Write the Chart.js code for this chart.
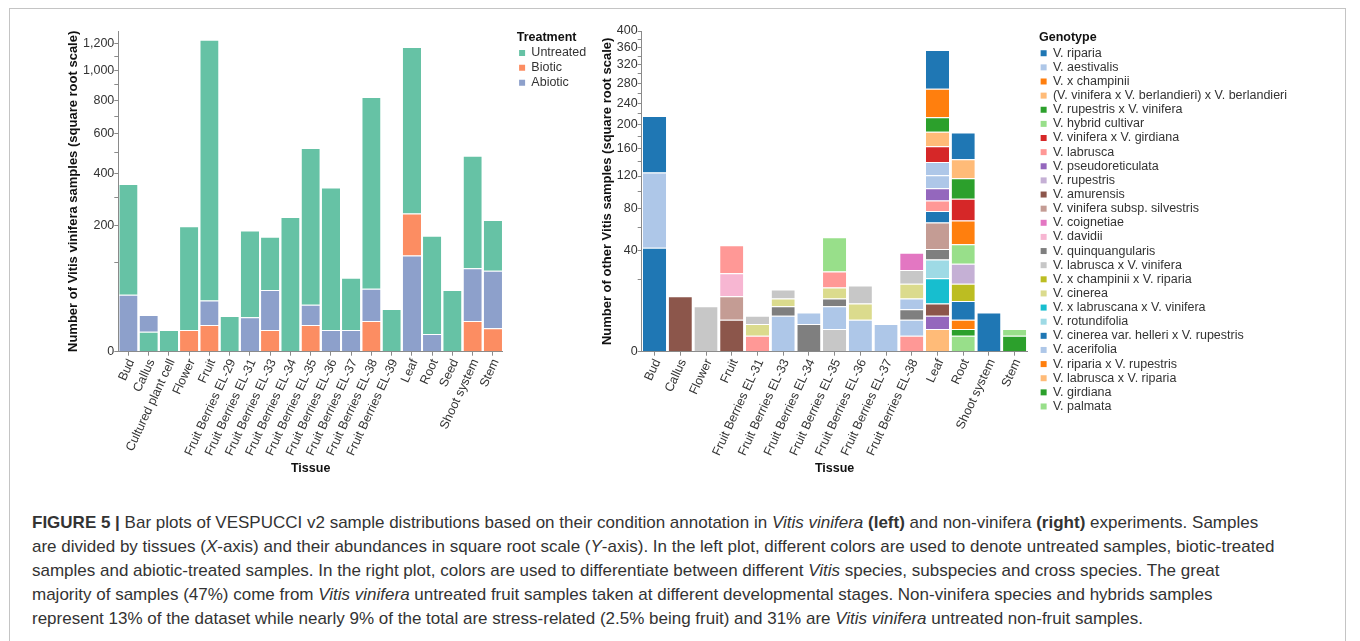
<!DOCTYPE html>
<html><head><meta charset="utf-8">
<script src="https://cdn.jsdelivr.net/npm/chart.js@4.4.1/dist/chart.umd.min.js"></script>
<style>
html,body{margin:0;padding:0;background:#fff;}
body{width:1360px;height:641px;position:relative;overflow:hidden;font-family:'Liberation Sans',Arial,sans-serif;}
#frame{position:absolute;left:9px;top:8px;width:1337px;height:680px;border:1px solid #c4c4c4;box-sizing:border-box;}
#left{position:absolute;left:60px;top:20px;}
#right{position:absolute;left:590px;top:20px;}
#caption{position:absolute;left:32px;top:511px;font-size:17px;line-height:24px;color:#333;white-space:nowrap;}
</style></head>
<body>
<div id="frame"></div>
<canvas id="left" width="540" height="456"></canvas>
<canvas id="right" width="745" height="456"></canvas>
<div id="caption"><b>FIGURE 5 |</b> Bar plots of VESPUCCI v2 sample distributions based on their condition annotation in <i>Vitis vinifera</i> <b>(left)</b> and non-vinifera <b>(right)</b> experiments. Samples<br>are divided by tissues (<i>X</i>-axis) and their abundances in square root scale (<i>Y</i>-axis). In the left plot, different colors are used to denote untreated samples, biotic-treated<br>samples and abiotic-treated samples. In the right plot, colors are used to differentiate between different <i>Vitis</i> species, subspecies and cross species. The great<br>majority of samples (47%) come from <i>Vitis vinifera</i> untreated fruit samples taken at different developmental stages. Non-vinifera species and hybrids samples<br>represent 13% of the dataset while nearly 9% of the total are stress-related (2.5% being fruit) and 31% are <i>Vitis vinifera</i> untreated non-fruit samples.</div>
<script>
// ---------------- DATA: left plot (Vitis vinifera) ----------------
const leftTissues = ['Bud','Callus','Cultured plant cell','Flower','Fruit','Fruit Berries EL-29','Fruit Berries EL-31','Fruit Berries EL-33','Fruit Berries EL-34','Fruit Berries EL-35','Fruit Berries EL-36','Fruit Berries EL-37','Fruit Berries EL-38','Fruit Berries EL-39','Leaf','Root','Seed','Shoot system','Stem'];
const treatmentNames = ['Untreated','Biotic','Abiotic'];
const untreatedCounts = [314,5,6,193,1198,16,171,119,229,497,335,63,770,23,932,166,48,397,136];
const bioticCounts    = [0,0,0,6,9,0,0,6,0,9,0,0,12,0,124,0,0,12,7];
const abioticCounts   = [41,12,0,0,24,0,15,42,0,19,6,6,38,0,117,4,0,76,76];
// stacking order of the rows in each bar, bottom to top
const leftStackOrder = [
  ['Abiotic','Untreated'], ['Untreated','Abiotic'], ['Untreated'], ['Biotic','Untreated'],
  ['Biotic','Abiotic','Untreated'], ['Untreated'], ['Abiotic','Untreated'], ['Biotic','Abiotic','Untreated'],
  ['Untreated'], ['Biotic','Abiotic','Untreated'], ['Abiotic','Untreated'], ['Abiotic','Untreated'],
  ['Biotic','Abiotic','Untreated'], ['Untreated'], ['Abiotic','Biotic','Untreated'], ['Abiotic','Untreated'],
  ['Untreated'], ['Biotic','Abiotic','Untreated'], ['Biotic','Abiotic','Untreated']
];
const leftTickValues = [0,100,200,300,400,500,600,700,800,900,1000,1100,1200];
const leftTickLabels = [0,200,400,600,800,1000,1200];
const leftMax = 1300;

// ---------------- DATA: right plot (other Vitis) ----------------
const rightTissues = ['Bud','Callus','Flower','Fruit','Fruit Berries EL-31','Fruit Berries EL-33','Fruit Berries EL-34','Fruit Berries EL-35','Fruit Berries EL-36','Fruit Berries EL-37','Fruit Berries EL-38','Leaf','Root','Shoot system','Stem'];
const genotypeNames = ['V. riparia','V. aestivalis','V. x champinii','(V. vinifera x V. berlandieri) x V. berlandieri','V. rupestris x V. vinifera','V. hybrid cultivar','V. vinifera x V. girdiana','V. labrusca','V. pseudoreticulata','V. rupestris','V. amurensis','V. vinifera subsp. silvestris','V. coignetiae','V. davidii','V. quinquangularis','V. labrusca x V. vinifera','V. x champinii x V. riparia','V. cinerea','V. x labruscana x V. vinifera','V. rotundifolia','V. cinerea var. helleri x V. rupestris','V. acerifolia','V. riparia x V. rupestris','V. labrusca x V. riparia','V. girdiana','V. palmata'];
// rows of each bar, bottom to top
const rightStackGenotypes = [
  ['V. riparia','V. aestivalis','V. riparia'],
  ['V. amurensis'],
  ['V. labrusca x V. vinifera'],
  ['V. amurensis','V. vinifera subsp. silvestris','V. davidii','V. labrusca'],
  ['V. labrusca','V. cinerea','V. labrusca x V. vinifera'],
  ['V. aestivalis','V. quinquangularis','V. cinerea','V. labrusca x V. vinifera'],
  ['V. quinquangularis','V. aestivalis'],
  ['V. labrusca x V. vinifera','V. aestivalis','V. quinquangularis','V. cinerea','V. labrusca','V. hybrid cultivar'],
  ['V. aestivalis','V. cinerea','V. labrusca x V. vinifera'],
  ['V. aestivalis'],
  ['V. labrusca','V. aestivalis','V. quinquangularis','V. aestivalis','V. cinerea','V. labrusca x V. vinifera','V. coignetiae'],
  ['(V. vinifera x V. berlandieri) x V. berlandieri','V. pseudoreticulata','V. amurensis','V. x labruscana x V. vinifera','V. rotundifolia','V. quinquangularis','V. vinifera subsp. silvestris','V. cinerea var. helleri x V. rupestris','V. labrusca','V. pseudoreticulata','V. aestivalis','V. acerifolia','V. vinifera x V. girdiana','V. labrusca x V. riparia','V. girdiana','V. riparia x V. rupestris','V. riparia'],
  ['V. hybrid cultivar','V. rupestris x V. vinifera','V. x champinii','V. riparia','V. x champinii x V. riparia','V. rupestris','V. palmata','V. riparia x V. rupestris','V. vinifera x V. girdiana','V. rupestris x V. vinifera','(V. vinifera x V. berlandieri) x V. berlandieri','V. riparia'],
  ['V. riparia'],
  ['V. girdiana','V. palmata']
];
const rightStackCounts = [
  [42,83,91],
  [12],
  [8],
  [4,8,12,20],
  [1,2,2],
  [5,3,3,4],
  [3,3],
  [2,6,3,5,9,26],
  [4,5,8],
  [3],
  [1,3,3,4,7,8,12],
  [2,3,4,12,12,8,24,12,12,15,17,19,24,24,26,55,85],
  [1,1,2,6,8,12,15,22,24,26,27,43],
  [6],
  [1,1]
];
const rightTickValues = [0,20,40,60,80,100,120,140,160,180,200,220,240,260,280,300,320,340,360,380,400];
const rightTickLabels = [0,40,80,120,160,200,240,280,320,360,400];
const rightMax = 400;

// ---------------- STYLE ----------------
const treatmentColors = {Untreated:'#66c2a5', Biotic:'#fc8d62', Abiotic:'#8da0cb'};
const tableau20 = ['#1f77b4','#aec7e8','#ff7f0e','#ffbb78','#2ca02c','#98df8a','#d62728','#ff9896','#9467bd','#c5b0d5','#8c564b','#c49c94','#e377c2','#f7b6d2','#7f7f7f','#c7c7c7','#bcbd22','#dbdb8d','#17becf','#9edae5'];
const genotypeColor = g => tableau20[genotypeNames.indexOf(g) % 20];
const axisGrey = '#8a8a8a', tickColor = '#333', titleColor = '#111';
Chart.defaults.font.family = "'Liberation Sans', Arial, Helvetica, sans-serif";

// ---------------- square-root scale ----------------
class SqrtScale extends Chart.LinearScale {
  getPixelForValue(value) {
    if (value === null || value === undefined || isNaN(value)) return NaN;
    const lo = Math.sqrt(Math.max(this.min, 0)), hi = Math.sqrt(this.max);
    return this.getPixelForDecimal((Math.sqrt(Math.max(value, 0)) - lo) / (hi - lo));
  }
  getValueForPixel(pixel) {
    const lo = Math.sqrt(Math.max(this.min, 0)), hi = Math.sqrt(this.max);
    const s = lo + this.getDecimalForPixel(pixel) * (hi - lo);
    return s * s;
  }
}
SqrtScale.id = 'sqrt';
SqrtScale.defaults = Chart.LinearScale.defaults;
Chart.register(SqrtScale);

function buildLayers(stackKeys, valueOf, colorOf) {
  const depth = Math.max(...stackKeys.map(s => s.length));
  const sets = [];
  for (let k = 0; k < depth; k++) {
    sets.push({
      label: 'row ' + (k + 1),
      data: stackKeys.map((s, i) => k < s.length ? valueOf(i, k) : null),
      backgroundColor: stackKeys.map(s => k < s.length ? colorOf(s[k]) : 'rgba(0,0,0,0)'),
      borderColor: 'rgba(255,255,255,0.7)',
      borderWidth: {top: 1, right: 0, bottom: 0, left: 0},
      borderSkipped: false,
      stack: 'all', xAxisID: 'x', yAxisID: 'y',
      categoryPercentage: 1, barPercentage: 0.9
    });
  }
  return sets;
}

function makeChart(id, tissues, datasets, p) {
  const chart = new Chart(document.getElementById(id), {
    type: 'bar',
    data: {labels: tissues, datasets},
    options: {
      responsive: false, animation: false, events: [],
      layout: {padding: {left: p.padLeft, top: 11, right: 0, bottom: 0}},
      scales: {
        x: {
          type: 'category', stacked: true, offset: true,
          grid: {display: true, drawOnChartArea: false, drawTicks: true, tickLength: 4, offset: false, color: axisGrey},
          border: {display: true, color: axisGrey, width: 1},
          ticks: {autoSkip: false, minRotation: 65, maxRotation: 65, padding: 1, labelOffset: 3, color: tickColor, font: {size: 12.5}},
          title: {display: true, text: 'Tissue', color: titleColor, font: {size: 12.5, weight: 'bold', lineHeight: 1.2}, padding: {top: 0, bottom: 0}},
          afterFit: s => { s.height = 124.3; }
        },
        y: {
          type: 'sqrt', stacked: true, min: 0, max: p.max, position: 'left',
          grid: {drawOnChartArea: false, drawTicks: true, tickLength: 4, color: axisGrey},
          border: {display: true, color: axisGrey, width: 1},
          ticks: {autoSkip: false, padding: 0, color: tickColor, font: {size: 12.5},
                  callback: v => p.labels.includes(v) ? v.toLocaleString('en-US') : ''},
          afterBuildTicks: s => { s.ticks = p.tickValues.map(v => ({value: v})); },
          title: {display: true, text: p.yTitle, color: titleColor, font: {size: 13, weight: 'bold', lineHeight: 1.2}, padding: {top: 0, bottom: 0}},
          afterFit: s => { s.width = p.yWidth; }
        },
        gap: {
          type: 'linear', axis: 'y', position: 'right', display: true,
          grid: {display: false, drawTicks: false}, border: {display: false}, ticks: {display: false},
          afterFit: s => { s.width = p.gap; }
        }
      },
      plugins: {
        tooltip: {enabled: false},
        legend: {
          position: 'right', align: 'start', maxWidth: 420, onClick: null,
          title: {display: true, text: p.legendTitle, position: 'start', color: titleColor,
                  font: {size: 12.5, weight: 'bold', lineHeight: 1.1}, padding: {top: 0, bottom: p.titleGap}},
          labels: {boxWidth: 6, boxHeight: 6, padding: p.legendPad, color: tickColor, font: {size: 12.5},
                   generateLabels: () => p.legendItems.map(it => ({text: it.text, fillStyle: it.color, strokeStyle: it.color, lineWidth: 0, hidden: false, fontColor: tickColor}))}
        }
      }
    }
  });
  chart.options.layout.padding.right = chart.chartArea.right - p.targetRight;
  chart.update();
  return chart;
}

const countsByTreatment = {Untreated: untreatedCounts, Biotic: bioticCounts, Abiotic: abioticCounts};
makeChart('left', leftTissues,
  buildLayers(leftStackOrder, (i, k) => countsByTreatment[leftStackOrder[i][k]][i], t => treatmentColors[t]),
  {padLeft: 5.2, yWidth: 53.1, max: leftMax, tickValues: leftTickValues, labels: leftTickLabels,
   yTitle: 'Number of Vitis vinifera samples (square root scale)', gap: 13.7, targetRight: 443,
   legendTitle: 'Treatment', titleGap: -0.5, legendPad: 2.4,
   legendItems: treatmentNames.map(t => ({text: t, color: treatmentColors[t]}))});

makeChart('right', rightTissues,
  buildLayers(rightStackGenotypes, (i, k) => rightStackCounts[i][k], genotypeColor),
  {padLeft: 9.7, yWidth: 42, max: rightMax, tickValues: rightTickValues, labels: rightTickLabels,
   yTitle: 'Number of other Vitis samples (square root scale)', gap: 11.5, targetRight: 437.5,
   legendTitle: 'Genotype', titleGap: 0.6, legendPad: 1.63,
   legendItems: genotypeNames.map(g => ({text: g, color: genotypeColor(g)}))});
</script>
</body></html>
